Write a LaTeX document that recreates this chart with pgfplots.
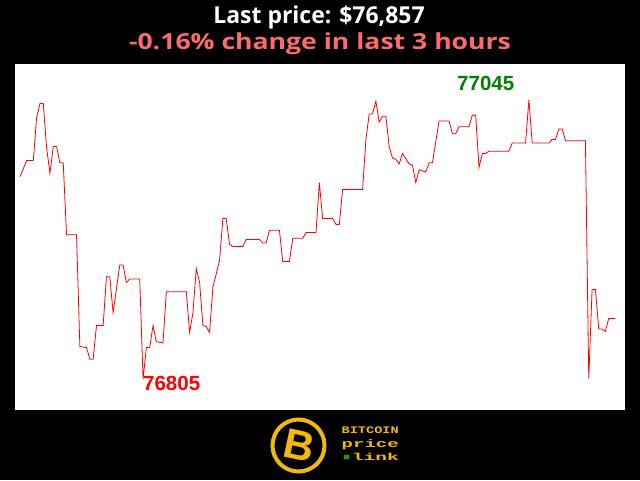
\documentclass[border=0pt]{standalone}
\usepackage{fontspec}
\setmainfont{Liberation Sans}
\newfontfamily\titlefont{Open Sans}
\newfontfamily\logofont{Liberation Mono}
\usepackage{pgfplots}
\usepackage{pgfplotstable}
\pgfplotsset{compat=1.18}
\definecolor{salmon}{RGB}{255,107,107}
\definecolor{darkgreen}{RGB}{0,128,0}
\definecolor{gold}{RGB}{242,185,12}
\pgfplotstableread{
m v
0 76979
2 76993
4 76993
5 77030
6 77042
7 77042
8 77004
9 76982
10 77005
11 77005
12 76991
13 76991
14 76929
17 76929
18 76833
20 76832
21 76822
22 76822
23 76851
25 76851
26 76893
27 76893
28 76862
30 76903
31 76903
32 76888
33 76891
36 76891
37 76805
38 76832
39 76832
40 76851
41 76837
43 76836
44 76880
50 76880
51 76845
52 76862
53 76900
54 76888
55 76851
56 76850
57 76845
58 76884
60 76907
61 76943
62 76943
63 76921
64 76919
67 76919
68 76925
72 76925
73 76922
74 76922
75 76933
78 76933
79 76906
81 76906
82 76926
85 76926
86 76931
89 76931
90 76974
91 76943
94 76943
95 76938
96 76938
97 76968
103 76968
104 77011
105 77033
106 77033
107 77044
108 77026
109 77031
110 77031
111 77005
112 76995
113 76994
114 76990
115 76999
117 76990
118 76989
119 76974
120 76985
121 76984
122 76983
123 76991
124 76991
126 77027
129 77027
130 77016
131 77016
132 77022
135 77022
136 77032
137 77032
138 76987
139 76999
140 76999
141 77001
147 77001
148 77008
152 77008
153 77045
154 77008
159 77008
160 77011
161 77011
162 77020
163 77020
164 77010
170 77010
171 76805
172 76882
173 76882
174 76848
175 76848
176 76846
177 76857
179 76857
}\pricedata
\begin{document}
\begin{tikzpicture}[x=1pt,y=1pt]
\fill[black] (0,0) rectangle (640,480);
\fill[white] (15,70) rectangle (625,416);
\begin{axis}[at={(15pt,70pt)}, anchor=south west, scale only axis,
  width=610pt, height=346pt, xmin=-1.5, xmax=181.9,
  ymin=76778.3, ymax=77076, hide axis, clip=false]
\addplot[red, line width=0.8pt, mark=none] table[x=m, y=v] {\pricedata};
\end{axis}
\node[anchor=base west, text=red, inner sep=0pt, font=\bfseries\fontsize{20.5}{24}\selectfont] at (143,90) {76805};
\node[anchor=base west, text=darkgreen, inner sep=0pt, font=\bfseries\fontsize{20.5}{24}\selectfont] at (457,389) {77045};
\node[anchor=base, text=white, inner sep=0pt, font=\titlefont\bfseries\fontsize{23.3}{28}\selectfont] at (319,456) {\scalebox{0.985}[1]{Last price: \$76,857}};
\node[anchor=base, text=salmon, inner sep=0pt, font=\titlefont\bfseries\fontsize{23.5}{28}\selectfont] at (320,430) {\resizebox{382pt}{16.8pt}{-0.16\% change in last 3 hours}};
% logo
\draw[gold, line width=4pt] (298.5,34.5) circle (26);
\node[text=gold, inner sep=0pt, rotate=-12, font=\bfseries\fontsize{42}{44}\selectfont] at (299,34) {B};
\node[anchor=base west, text=gold, inner sep=0pt] at (341.5,46.7) {\resizebox{57pt}{6.7pt}{\logofont\bfseries BITCOIN}};
\node[anchor=base west, text=gold, inner sep=0pt] at (341.5,32.3) {\resizebox{57pt}{8pt}{\logofont\bfseries price}};
\node[anchor=base west, text=gold, inner sep=0pt] at (351.7,19.5) {\resizebox{47pt}{7.3pt}{\logofont\bfseries link}};
\fill[green!70!black] (344,21) rectangle (348.5,25);
\end{tikzpicture}
\end{document}
